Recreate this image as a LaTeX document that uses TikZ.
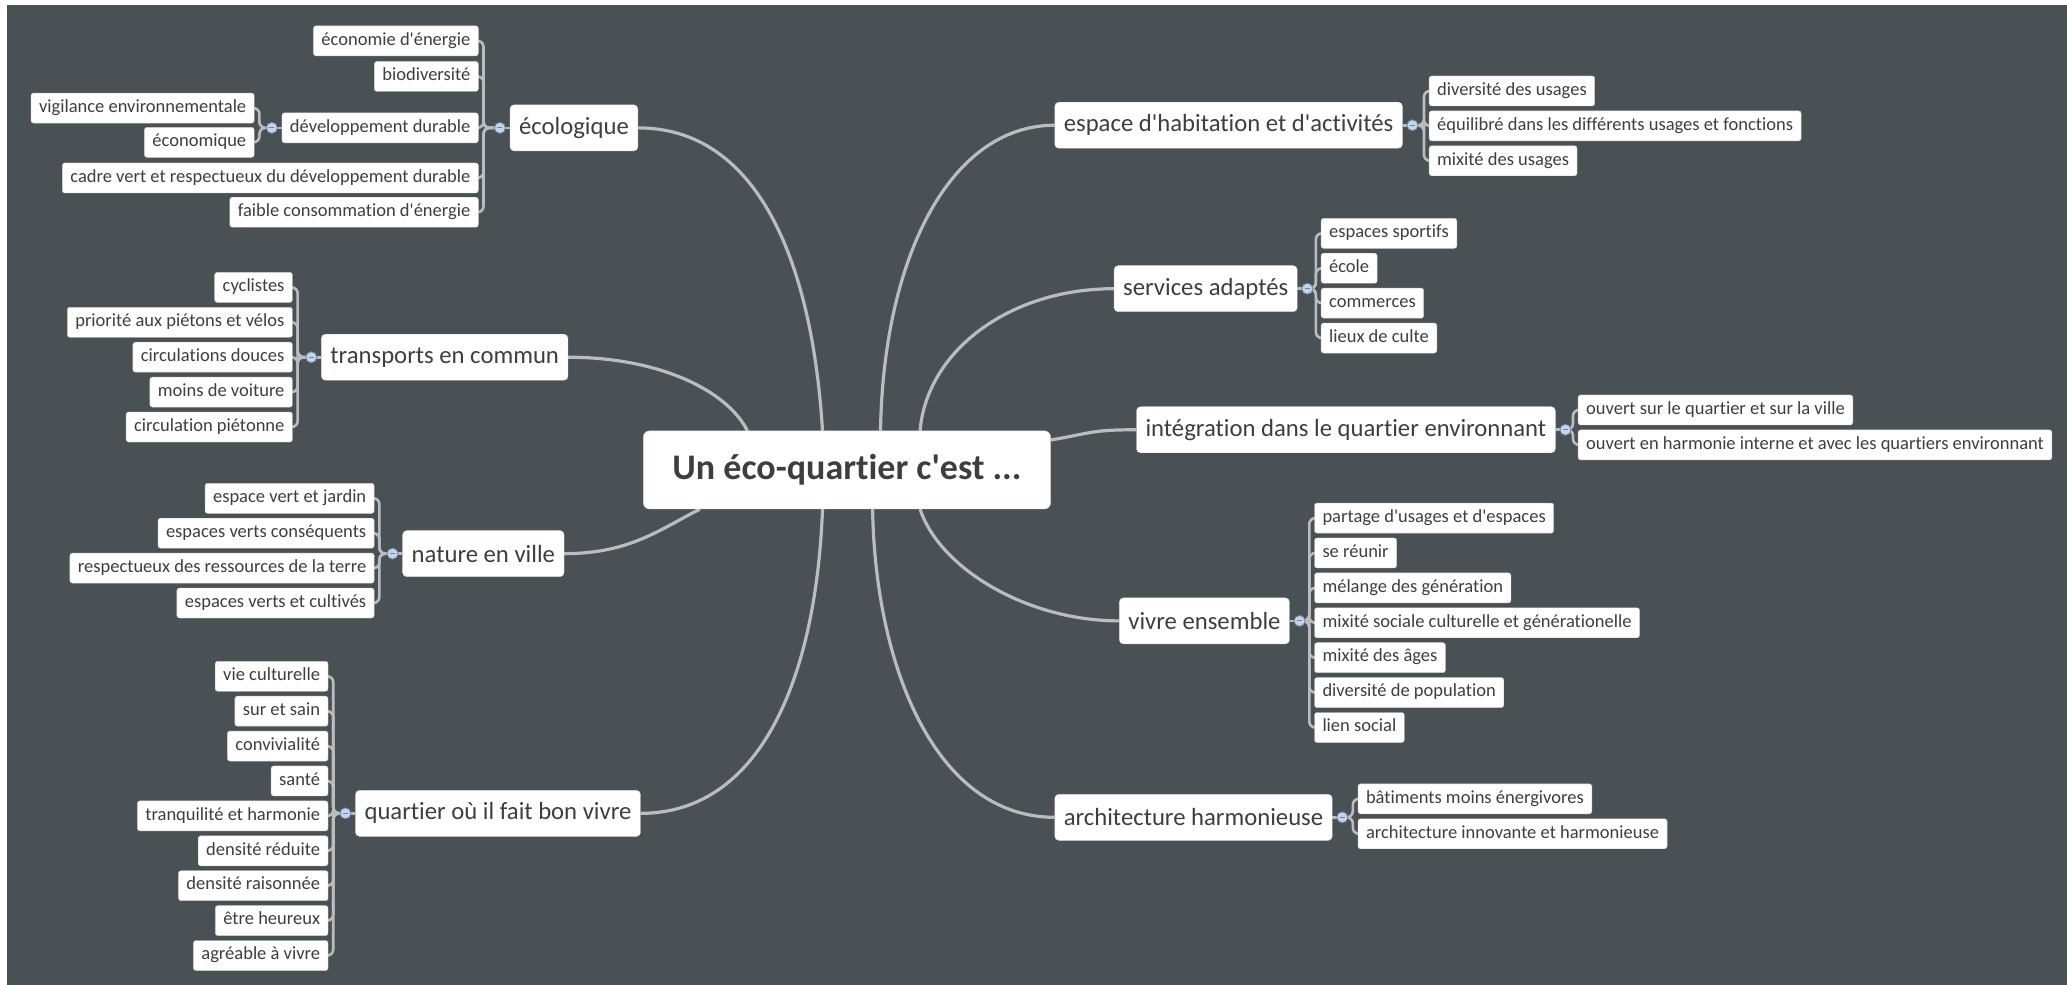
\documentclass[tikz,border=0pt]{standalone}
\usepackage{fontspec}
\setmainfont{Carlito}[Ligatures={TeXOff,NoCommon}]
\usetikzlibrary{positioning}
\definecolor{slate}{RGB}{74,81,84}
\definecolor{inkgray}{RGB}{62,62,62}
\definecolor{wire}{RGB}{186,188,189}
\definecolor{knobfill}{RGB}{196,212,234}
\definecolor{knobline}{RGB}{112,132,162}
\pgfdeclarelayer{bg}
\pgfdeclarelayer{wires}
\pgfsetlayers{bg,wires,main}

\begin{document}
\begin{tikzpicture}[x=1.318pt, y=-1.318pt,
  node distance=4.5pt,
  root/.style={rectangle, rounded corners=6pt, fill=white, draw=black!15, font=\fontsize{36}{40}\selectfont\bfseries, text=inkgray, minimum width=407pt, minimum height=78pt},
  topic/.style={rectangle, rounded corners=4pt, fill=white, draw=black!15, font=\fontsize{24.7}{28}\selectfont, text=inkgray, minimum height=46pt, inner xsep=9pt},
  leaf/.style={rectangle, rounded corners=2.5pt, fill=white, draw=black!20, font=\fontsize{18.5}{21}\selectfont, text=inkgray, minimum height=30pt, inner xsep=8pt, inner ysep=0pt, text height=13pt, text depth=4.5pt},
  knob/.style={circle, fill=knobfill, draw=knobline, line width=0.8pt, minimum size=11pt, inner sep=0pt,
    path picture={\draw[knobline, line width=1pt] ([xshift=-2.5pt]path picture bounding box.center) -- ([xshift=2.5pt]path picture bounding box.center);}},
  branch/.style={draw=wire, line width=3.2pt},
  twig/.style={draw=wire, line width=2.6pt, rounded corners=6pt}
]
\useasboundingbox (0,0) rectangle (1568,747);
\begin{pgfonlayer}{bg}
  \fill[white] (0,0) rectangle (1568,747);
  \fill[slate] (5.3,3.8) rectangle (1568,747);
\end{pgfonlayer}

\node (root) [root] at (642.5,356.5) {Un éco-quartier c'est ...};

% left side
\node (eco) [topic, anchor=east] at (484,97) {écologique};
\node (kEco) [knob, left=4pt of eco] {};
\node (eco1) [leaf, anchor=east] at (363,31) {économie d'énergie};
\node (eco2) [leaf, anchor=east] at (363,58) {biodiversité};
\node (eco3) [leaf, anchor=east] at (363,97) {développement durable};
\node (eco4) [leaf, anchor=east] at (363,135) {cadre vert et respectueux du développement durable};
\node (eco5) [leaf, anchor=east] at (363,161) {faible consommation d'énergie};
\node (kDur) [knob, left=4pt of eco3] {};
\node (dur1) [leaf, anchor=east] at (193,82) {vigilance environnementale};
\node (dur2) [leaf, anchor=east] at (193,108) {économique};

\node (trans) [topic, anchor=east] at (431,271) {transports en commun};
\node (kTrans) [knob, left=4pt of trans] {};
\node (trans1) [leaf, anchor=east] at (222,218) {cyclistes};
\node (trans2) [leaf, below=of trans1.south east, anchor=north east] {priorité aux piétons et vélos};
\node (trans3) [leaf, below=of trans2.south east, anchor=north east] {circulations douces};
\node (trans4) [leaf, below=of trans3.south east, anchor=north east] {moins de voiture};
\node (trans5) [leaf, below=of trans4.south east, anchor=north east] {circulation piétonne};

\node (nature) [topic, anchor=east] at (428,420) {nature en ville};
\node (kNature) [knob, left=4pt of nature] {};
\node (nature1) [leaf, anchor=east] at (284,378) {espace vert et jardin};
\node (nature2) [leaf, below=of nature1.south east, anchor=north east] {espaces verts conséquents};
\node (nature3) [leaf, below=of nature2.south east, anchor=north east] {respectueux des ressources de la terre};
\node (nature4) [leaf, below=of nature3.south east, anchor=north east] {espaces verts et cultivés};

\node (vivre) [topic, anchor=east] at (486,617) {quartier où il fait bon vivre};
\node (kVivre) [knob, left=4pt of vivre] {};
\node (vivre1) [leaf, anchor=east] at (249,513) {vie culturelle};
\node (vivre2) [leaf, below=of vivre1.south east, anchor=north east] {sur et sain};
\node (vivre3) [leaf, below=of vivre2.south east, anchor=north east] {convivialité};
\node (vivre4) [leaf, below=of vivre3.south east, anchor=north east] {santé};
\node (vivre5) [leaf, below=of vivre4.south east, anchor=north east] {tranquilité et harmonie};
\node (vivre6) [leaf, below=of vivre5.south east, anchor=north east] {densité réduite};
\node (vivre7) [leaf, below=of vivre6.south east, anchor=north east] {densité raisonnée};
\node (vivre8) [leaf, below=of vivre7.south east, anchor=north east] {être heureux};
\node (vivre9) [leaf, below=of vivre8.south east, anchor=north east] {agréable à vivre};

% right side
\node (hab) [topic, anchor=west] at (800,95) {espace d'habitation et d'activités};
\node (kHab) [knob, right=4pt of hab] {};
\node (hab1) [leaf, anchor=west] at (1084,69) {diversité des usages};
\node (hab2) [leaf, below=of hab1.south west, anchor=north west] {équilibré dans les différents usages et fonctions};
\node (hab3) [leaf, below=of hab2.south west, anchor=north west] {mixité des usages};

\node (serv) [topic, anchor=west] at (845,219) {services adaptés};
\node (kServ) [knob, right=4pt of serv] {};
\node (serv1) [leaf, anchor=west] at (1002,177) {espaces sportifs};
\node (serv2) [leaf, below=of serv1.south west, anchor=north west] {école};
\node (serv3) [leaf, below=of serv2.south west, anchor=north west] {commerces};
\node (serv4) [leaf, below=of serv3.south west, anchor=north west] {lieux de culte};

\node (integ) [topic, anchor=west] at (862,326) {intégration dans le quartier environnant};
\node (kInteg) [knob, right=4pt of integ] {};
\node (integ1) [leaf, anchor=west] at (1197,311) {ouvert sur le quartier et sur la ville};
\node (integ2) [leaf, below=of integ1.south west, anchor=north west] {ouvert en harmonie interne et avec les quartiers environnant};

\node (ens) [topic, anchor=west] at (849,471) {vivre ensemble};
\node (kEns) [knob, right=4pt of ens] {};
\node (ens1) [leaf, anchor=west] at (997,393) {partage d'usages et d'espaces};
\node (ens2) [leaf, below=of ens1.south west, anchor=north west] {se réunir};
\node (ens3) [leaf, below=of ens2.south west, anchor=north west] {mélange des génération};
\node (ens4) [leaf, below=of ens3.south west, anchor=north west] {mixité sociale culturelle et générationelle};
\node (ens5) [leaf, below=of ens4.south west, anchor=north west] {mixité des âges};
\node (ens6) [leaf, below=of ens5.south west, anchor=north west] {diversité de population};
\node (ens7) [leaf, below=of ens6.south west, anchor=north west] {lien social};

\node (archi) [topic, anchor=west] at (800,620) {architecture harmonieuse};
\node (kArchi) [knob, right=4pt of archi] {};
\node (archi1) [leaf, anchor=west] at (1030,606) {bâtiments moins énergivores};
\node (archi2) [leaf, below=of archi1.south west, anchor=north west] {architecture innovante et harmonieuse};

% where the branches meet the root
\path (root.north west) ++(136,0) coordinate (tEco) ++(-57,0) coordinate (tTrans)
      ++(101,0) coordinate (tHab) ++(30,0) coordinate (tServ);
\path (root.south west) ++(43,0) coordinate (bNature) ++(93,0) coordinate (bVivre)
      ++(38,0) coordinate (bArchi) ++(36,0) coordinate (bEns);
\path (root.north east) ++(0,7) coordinate (eInteg);

\begin{pgfonlayer}{wires}
  \draw[branch] (eco.east) .. controls +(90,0) and +(-8,-130) .. (tEco);
  \draw[branch] (trans.east) .. controls +(70,0) and +(-15,-30) .. (tTrans);
  \draw[branch] (nature.east) .. controls +(50,0) and +(-30,15) .. (bNature);
  \draw[branch] (vivre.east) .. controls +(90,0) and +(-5,130) .. (bVivre);
  \draw[branch] (hab.west) .. controls +(-80,0) and +(2,-130) .. (tHab);
  \draw[branch] (serv.west) .. controls +(-80,0) and +(5,-60) .. (tServ);
  \draw[branch] (integ.west) .. controls +(-35,0) and +(30,-5) .. (eInteg);
  \draw[branch] (ens.west) .. controls +(-70,0) and +(15,45) .. (bEns);
  \draw[branch] (archi.west) .. controls +(-90,0) and +(2,120) .. (bArchi);

  \foreach \k/\t in {kEco/eco, kDur/eco3, kTrans/trans, kNature/nature, kVivre/vivre}
    \draw[twig] (\k.center) -- (\t.west);
  \foreach \k/\t in {kHab/hab, kServ/serv, kInteg/integ, kEns/ens, kArchi/archi}
    \draw[twig] (\k.center) -- (\t.east);

  \foreach \n in {1,...,5} \draw[twig] (kEco.center) -| ([xshift=5pt]eco\n.east) -- (eco\n.east);
  \foreach \n in {1,2} \draw[twig] (kDur.center) -| ([xshift=5pt]dur\n.east) -- (dur\n.east);
  \foreach \n in {1,...,5} \draw[twig] (kTrans.center) -| ([xshift=5pt]trans\n.east) -- (trans\n.east);
  \foreach \n in {1,...,4} \draw[twig] (kNature.center) -| ([xshift=5pt]nature\n.east) -- (nature\n.east);
  \foreach \n in {1,...,9} \draw[twig] (kVivre.center) -| ([xshift=5pt]vivre\n.east) -- (vivre\n.east);
  \foreach \n in {1,...,3} \draw[twig] (kHab.center) -| ([xshift=-5pt]hab\n.west) -- (hab\n.west);
  \foreach \n in {1,...,4} \draw[twig] (kServ.center) -| ([xshift=-5pt]serv\n.west) -- (serv\n.west);
  \foreach \n in {1,2} \draw[twig] (kInteg.center) -| ([xshift=-5pt]integ\n.west) -- (integ\n.west);
  \foreach \n in {1,...,7} \draw[twig] (kEns.center) -| ([xshift=-5pt]ens\n.west) -- (ens\n.west);
  \foreach \n in {1,2} \draw[twig] (kArchi.center) -| ([xshift=-5pt]archi\n.west) -- (archi\n.west);
\end{pgfonlayer}

\end{tikzpicture}
\end{document}
